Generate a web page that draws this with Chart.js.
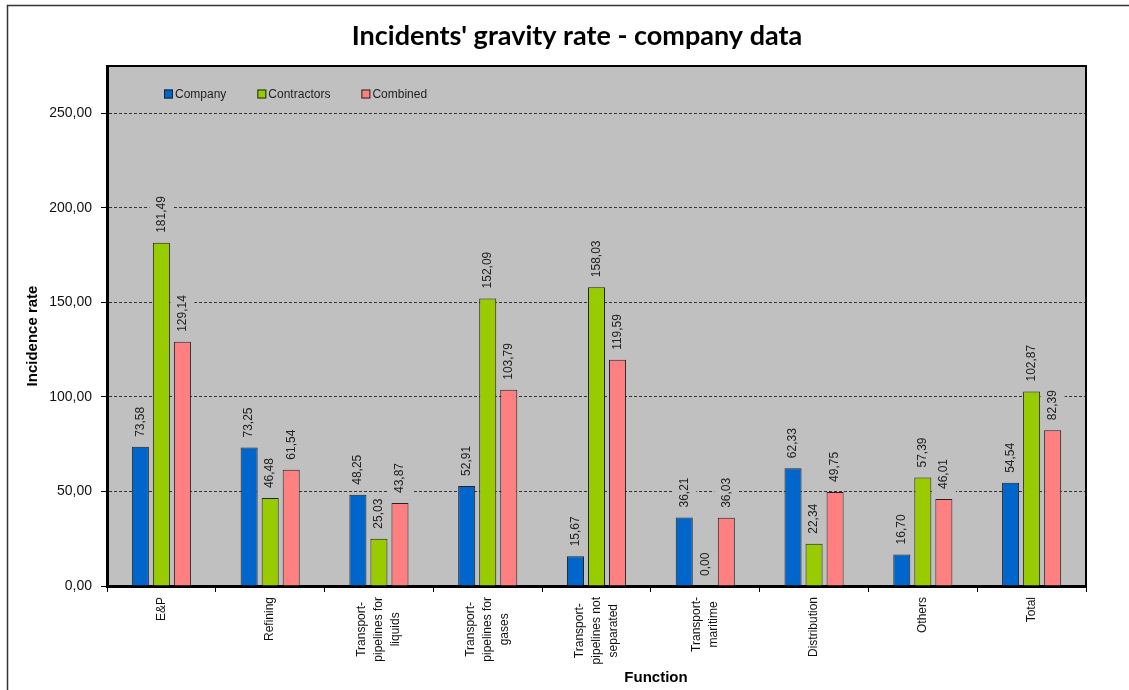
<!DOCTYPE html>
<html>
<head>
    <meta charset="UTF-8">
    <title>Incidents' gravity rate</title>
    <script src="https://cdn.jsdelivr.net/npm/chart.js"></script>
    <style>
        body { margin: 0; background: #fff; }
    </style>
</head>
<body>
    <canvas id="gravityChart" width="1129" height="690"></canvas>
    <script>
        var functions = [
            'E&P',
            'Refining',
            ['Transport-', 'pipelines for', 'liquids'],
            ['Transport-', 'pipelines for', 'gases'],
            ['Transport-', 'pipelines not', 'separated'],
            ['Transport-', 'maritime'],
            'Distribution',
            'Others',
            'Total'
        ];
        var company     = [73.58, 73.25, 48.25, 52.91, 15.67, 36.21, 62.33, 16.70, 54.54];
        var contractors = [181.49, 46.48, 25.03, 152.09, 158.03, 0.00, 22.34, 57.39, 102.87];
        var combined    = [129.14, 61.54, 43.87, 103.79, 119.59, 36.03, 49.75, 46.01, 82.39];
        var yTicks = [0, 50, 100, 150, 200, 250];

        var FONT = "'Liberation Sans', Arial, sans-serif";
        var PLOT_BG = '#c0c0c0';

        function fmt(v) {
            return v.toFixed(2).replace('.', ',');
        }

        // background, outer frame and grey plot area
        var backdrop = {
            id: 'backdrop',
            beforeDraw: function (chart) {
                var c = chart.ctx, a = chart.chartArea;
                c.save();
                c.fillStyle = '#fff';
                c.fillRect(0, 0, chart.width, chart.height);
                c.strokeStyle = '#333';
                c.lineWidth = 1.5;
                c.strokeRect(7.5, 5.5, chart.width + 20, chart.height + 20);
                c.fillStyle = PLOT_BG;
                c.fillRect(a.left, a.top, a.right - a.left, a.bottom - a.top);
                c.restore();
            }
        };

        // value labels above each bar, rotated, on a grey box
        var barLabels = {
            id: 'barLabels',
            afterDatasetsDraw: function (chart) {
                var c = chart.ctx;
                c.save();
                c.font = '12px ' + FONT;
                chart.data.datasets.forEach(function (ds, i) {
                    chart.getDatasetMeta(i).data.forEach(function (bar, j) {
                        var txt = fmt(ds.data[j]);
                        var w = c.measureText(txt).width;
                        c.save();
                        c.translate(bar.x, bar.y - 10);
                        c.rotate(-Math.PI / 2);
                        c.fillStyle = PLOT_BG;
                        c.fillRect(-4, -12, w + 9, 24);
                        c.fillStyle = '#222';
                        c.textAlign = 'left';
                        c.textBaseline = 'middle';
                        c.fillText(txt, 0, 0);
                        c.restore();
                    });
                });
                c.restore();
            }
        };

        // category names, rotated, lines centred on each other
        var categoryLabels = {
            id: 'categoryLabels',
            afterDraw: function (chart) {
                var c = chart.ctx, xs = chart.scales.x;
                var lineH = 17, top = xs.top + 11;
                c.save();
                c.font = '12px ' + FONT;
                c.fillStyle = '#111';
                c.textAlign = 'center';
                c.textBaseline = 'middle';
                chart.data.labels.forEach(function (lbl, i) {
                    var lines = [].concat(lbl);
                    var widest = Math.max.apply(null, lines.map(function (l) { return c.measureText(l).width; }));
                    var x0 = xs.getPixelForTick(i) - (lines.length - 1) * lineH / 2;
                    lines.forEach(function (line, k) {
                        c.save();
                        c.translate(x0 + k * lineH, top + widest / 2);
                        c.rotate(-Math.PI / 2);
                        c.fillText(line, 0, 0);
                        c.restore();
                    });
                });
                c.restore();
            }
        };

        // frame, legend and titles
        var decorations = {
            id: 'decorations',
            afterDraw: function (chart) {
                var c = chart.ctx, a = chart.chartArea;
                c.save();
                c.strokeStyle = '#000';
                c.lineWidth = 2;
                c.beginPath();
                c.moveTo(a.left, a.top);
                c.lineTo(a.right, a.top);
                c.lineTo(a.right, a.bottom);
                c.stroke();

                // legend inside the plot
                c.font = '12px ' + FONT;
                c.textBaseline = 'middle';
                c.textAlign = 'left';
                var x = a.left + 57, y = a.top + 28;
                chart.data.datasets.forEach(function (ds) {
                    c.fillStyle = ds.backgroundColor;
                    c.fillRect(x, y - 4.5, 9, 9);
                    c.strokeStyle = '#222';
                    c.lineWidth = 1;
                    c.strokeRect(x + 0.5, y - 4, 8, 8);
                    c.fillStyle = '#222';
                    c.fillText(ds.label, x + 11, y + 1);
                    x += 11 + c.measureText(ds.label).width + 31;
                });

                c.fillStyle = '#000';
                c.textAlign = 'center';
                c.font = 'bold 27px Lato, sans-serif';
                c.fillText("Incidents' gravity rate - company data", 577, 36);

                c.font = 'bold 15px ' + FONT;
                c.fillText('Function', 656, 678);

                c.translate(33, 336);
                c.rotate(-Math.PI / 2);
                c.fillText('Incidence rate', 0, 0);
                c.restore();
            }
        };

        var ctx = document.getElementById('gravityChart').getContext('2d');
        Chart.defaults.font.family = FONT;
        Chart.defaults.color = '#000';

        var barStyle = { borderColor: '#222', borderWidth: 1, categoryPercentage: 0.58, barPercentage: 0.81 };

        var gravityChart = new Chart(ctx, {
            type: 'bar',
            data: {
                labels: functions,
                datasets: [
                    Object.assign({ label: 'Company', data: company, backgroundColor: '#0066cc' }, barStyle),
                    Object.assign({ label: 'Contractors', data: contractors, backgroundColor: '#99cc00' }, barStyle),
                    Object.assign({ label: 'Combined', data: combined, backgroundColor: '#ff8080' }, barStyle)
                ]
            },
            options: {
                responsive: false,
                animation: false,
                layout: { padding: { top: 66, right: 43, bottom: 0, left: 0 } },
                plugins: {
                    legend: { display: false },
                    tooltip: { enabled: false }
                },
                scales: {
                    x: {
                        afterFit: function (s) { s.height = 104; },
                        grid: { offset: true, drawOnChartArea: false, color: '#000', tickLength: 6 },
                        border: { color: '#000', width: 3 },
                        ticks: { display: false }
                    },
                    y: {
                        min: 0,
                        max: 275,
                        afterFit: function (s) { s.width = 107; },
                        afterBuildTicks: function (s) {
                            s.ticks = yTicks.map(function (v) { return { value: v }; });
                        },
                        grid: {
                            color: function (c) { return c.tick && c.tick.value === 0 ? 'rgba(0,0,0,0)' : '#333'; },
                            tickColor: '#000',
                            tickLength: 6
                        },
                        border: { color: '#000', width: 3, dash: [3, 2] },
                        ticks: {
                            padding: 9,
                            font: { size: 14 },
                            color: '#111',
                            callback: function (v) { return fmt(v); }
                        }
                    }
                }
            },
            plugins: [backdrop, barLabels, categoryLabels, decorations]
        });
    </script>
</body>
</html>
